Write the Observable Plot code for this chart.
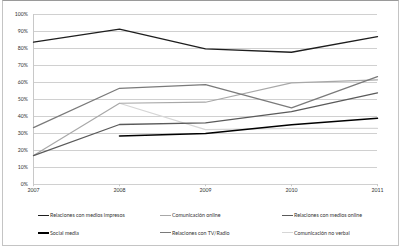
<!DOCTYPE html>
<html>
<head>
<meta charset="utf-8">
<script src="https://cdn.jsdelivr.net/npm/d3@7"></script>
<script src="https://cdn.jsdelivr.net/npm/@observablehq/plot@0.6"></script>
<style>
  html, body { margin: 0; padding: 0; background: #fff; }
  #wrap { position: relative; width: 402px; height: 249px; overflow: hidden; font-family: Lato, "Open Sans", sans-serif; }
  #frame { position: absolute; left: 2px; top: 0px; width: 397px; height: 246px; border: 1px solid #c4c4c4; box-sizing: border-box; border-top-color: #9a9a9a; }
  #chart { position: absolute; left: 0; top: 0; }
  .leg { position: absolute; font-size: 5.3px; color: #333; white-space: nowrap; line-height: 8px; }
  .sw { position: absolute; width: 11px; }
</style>
</head>
<body>
<div id="wrap">
  <div id="frame"></div>
  <div id="chart"></div>
</div>
<script>
const years = [2007, 2008, 2009, 2010, 2011];
const seriesNames = [
  "Relaciones con medios impresos",
  "Comunicación online",
  "Relaciones con medios online",
  "Social media",
  "Relaciones con TV/Radio",
  "Comunicación no verbal"
];
const impresos   = [83.7, 91.4, 79.8, 77.8, 87.0];
const comOnline  = [17.0, 47.8, 48.4, 59.8, 61.6];
const mediosOnl  = [17.0, 35.3, 36.3, 42.9, 53.9];
const socialMed  = [null, 28.6, 30.0, 35.1, 39.0];
const tvRadio    = [33.5, 56.6, 58.8, 45.1, 63.5];
const noVerbal   = [null, 47.8, 32.3, 33.0, 33.0];
const yTicks = [0, 10, 20, 30, 40, 50, 60, 70, 80, 90, 100];
const colors = ["#1e1e1e", "#a8a8a8", "#5a5a5a", "#000000", "#7a7a7a", "#d6d6d6"];
const widths = [1.3, 1.2, 1.3, 1.5, 1.3, 1.2];

const allValues = [impresos, comOnline, mediosOnl, socialMed, tvRadio, noVerbal];
const data = [];
seriesNames.forEach((name, i) => {
  years.forEach((y, j) => {
    const v = allValues[i][j];
    if (v != null) data.push({series: name, year: y, value: v, idx: i});
  });
});

const lineMarks = seriesNames.map((name, i) =>
  Plot.line(data.filter(d => d.series === name), {
    x: "year", y: "value", stroke: colors[i], strokeWidth: widths[i]
  })
);

const plot = Plot.plot({
  width: 402,
  height: 200,
  marginLeft: 33,
  marginRight: 25,
  marginTop: 14,
  marginBottom: 16,
  style: { fontFamily: "Lato, 'Open Sans', sans-serif", fontSize: "5.2px", color: "#333", background: "transparent" },
  x: { type: "linear", domain: [2007, 2011], label: null },
  y: { type: "linear", domain: [0, 100], label: null },
  marks: [
    Plot.ruleY(yTicks, { y: d => d, stroke: "#d0d0d0", strokeWidth: 1.2 }),
    Plot.ruleX([2007], { x: d => d, y1: 0, y2: 100, stroke: "#c8c8c8", strokeWidth: 1 }),
    Plot.ruleX(years, { x: d => d, y1: 0, y2: -1.3, stroke: "#c8c8c8", strokeWidth: 1 }),
    Plot.axisX({ ticks: years, tickFormat: d => String(d), tickSize: 0, tickPadding: 4, label: null }),
    Plot.axisY({ ticks: yTicks, tickFormat: d => d + "%", tickSize: 0, tickPadding: 5.5, label: null }),
    lineMarks[5], lineMarks[1], lineMarks[4], lineMarks[2], lineMarks[0], lineMarks[3]
  ]
});
document.getElementById("chart").appendChild(plot);

// legend
const wrap = document.getElementById("wrap");
const colX = [38, 160, 282];
const rowC = [215.5, 233];
seriesNames.forEach((name, i) => {
  const x = colX[i % 3], cy = rowC[Math.floor(i / 3)];
  const sw = document.createElement("div");
  sw.className = "sw";
  sw.style.left = x + "px";
  sw.style.top = (cy - 1) + "px";
  sw.style.height = (i === 3 ? 2 : 1) + "px";
  sw.style.background = colors[i];
  wrap.appendChild(sw);
  const el = document.createElement("div");
  el.className = "leg";
  el.style.left = (x + 12) + "px";
  el.style.top = (cy - 4.5) + "px";
  el.textContent = name;
  wrap.appendChild(el);
});
</script>
</body>
</html>
